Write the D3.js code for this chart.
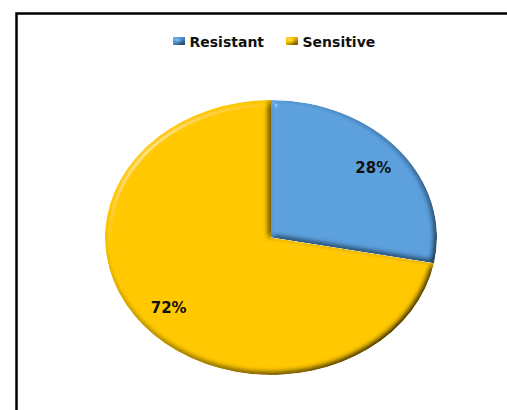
<!DOCTYPE html>
<html>
<head>
<meta charset="utf-8">
<script src="https://cdn.jsdelivr.net/npm/d3@7"></script>
<style>
  html, body { margin: 0; padding: 0; background: #fff; }
  svg { display: block; }
  text { font-family: "DejaVu Sans", Verdana, sans-serif; font-weight: bold; }
</style>
</head>
<body>
<svg id="chart" width="507" height="410"></svg>
<script>
// Susceptibility split
const categories = ["Resistant", "Sensitive"];
const values = [28, 72];
const colors = ["#5ba0de", "#ffc800"];

const W = 507, H = 410;
const svg = d3.select("#chart");

// Chart frame (open on the right and bottom)
svg.append("path")
  .attr("d", `M16.5,${H} L16.5,13.5 L${W},13.5`)
  .attr("fill", "none")
  .attr("stroke", "#000")
  .attr("stroke-width", 2.5);

const defs = svg.append("defs");

// Soft bevel: diffuse shading darkens edges facing away from the light,
// specular adds a glint on edges facing it.
const bevel = defs.append("filter")
  .attr("id", "bevel")
  .attr("x", "-5%").attr("y", "-5%")
  .attr("width", "110%").attr("height", "110%");
bevel.append("feGaussianBlur")
  .attr("in", "SourceAlpha").attr("stdDeviation", 3).attr("result", "blur");
const diff = bevel.append("feDiffuseLighting")
  .attr("in", "blur").attr("surfaceScale", 6)
  .attr("diffuseConstant", 1.155).attr("lighting-color", "#fff")
  .attr("result", "diff");
diff.append("feDistantLight").attr("azimuth", 225).attr("elevation", 60);
bevel.append("feComposite")
  .attr("in", "SourceGraphic").attr("in2", "diff")
  .attr("operator", "arithmetic")
  .attr("k1", 1).attr("k2", 0).attr("k3", 0).attr("k4", 0)
  .attr("result", "shaded");
const spec = bevel.append("feSpecularLighting")
  .attr("in", "blur").attr("surfaceScale", 6)
  .attr("specularConstant", 0.45).attr("specularExponent", 40)
  .attr("lighting-color", "#fff").attr("result", "spec");
spec.append("feDistantLight").attr("azimuth", 225).attr("elevation", 25);
bevel.append("feComposite")
  .attr("in", "spec").attr("in2", "SourceAlpha")
  .attr("operator", "in").attr("result", "specIn");
bevel.append("feComposite")
  .attr("in", "shaded").attr("in2", "specIn")
  .attr("operator", "arithmetic")
  .attr("k1", 0).attr("k2", 1).attr("k3", 0.5).attr("k4", 0)
  .attr("result", "lit");
bevel.append("feComposite")
  .attr("in", "lit").attr("in2", "SourceAlpha").attr("operator", "in");

// Pie laid out on a circle, then squashed into an ellipse
const cx = 271, cy = 237.5, rx = 166, ry = 137.5;
const sy = ry / rx;

const pie = d3.pie().sort(null).value(d => d);
const arcs = pie(values);
const arc = d3.arc().innerRadius(0).outerRadius(rx);
const labelArc = d3.arc().innerRadius(rx * 0.8).outerRadius(rx * 0.8);

const slices = svg.append("g").attr("transform", `translate(${cx},${cy})`);
slices.selectAll("g.slice")
  .data(arcs)
  .join("g")
  .attr("class", "slice")
  .attr("filter", "url(#bevel)")
  .append("path")
  .attr("transform", `scale(1,${sy})`)
  .attr("d", arc)
  .attr("fill", (d, i) => colors[i]);

// Percentage labels
const total = d3.sum(values);
slices.selectAll("text.pct")
  .data(arcs)
  .join("text")
  .attr("class", "pct")
  .attr("x", d => labelArc.centroid(d)[0])
  .attr("y", d => labelArc.centroid(d)[1] * sy + 5.5)
  .attr("text-anchor", "middle")
  .attr("font-size", 15)
  .attr("fill", "#111")
  .text(d => Math.round(d.data / total * 100) + "%");

// Legend
const legendItems = [
  { x: 173, name: categories[0], color: colors[0] },
  { x: 286, name: categories[1], color: colors[1] }
];
const lg = svg.append("g");
const item = lg.selectAll("g")
  .data(legendItems)
  .join("g")
  .attr("transform", d => `translate(${d.x},36)`);
item.append("rect")
  .attr("width", 12).attr("height", 8).attr("y", 1)
  .attr("fill", d => d.color)
  .attr("filter", "url(#bevel)");
item.append("text")
  .attr("x", 16.5).attr("y", 10.5)
  .attr("font-size", 14)
  .attr("fill", "#111")
  .text(d => d.name);
</script>
</body>
</html>
